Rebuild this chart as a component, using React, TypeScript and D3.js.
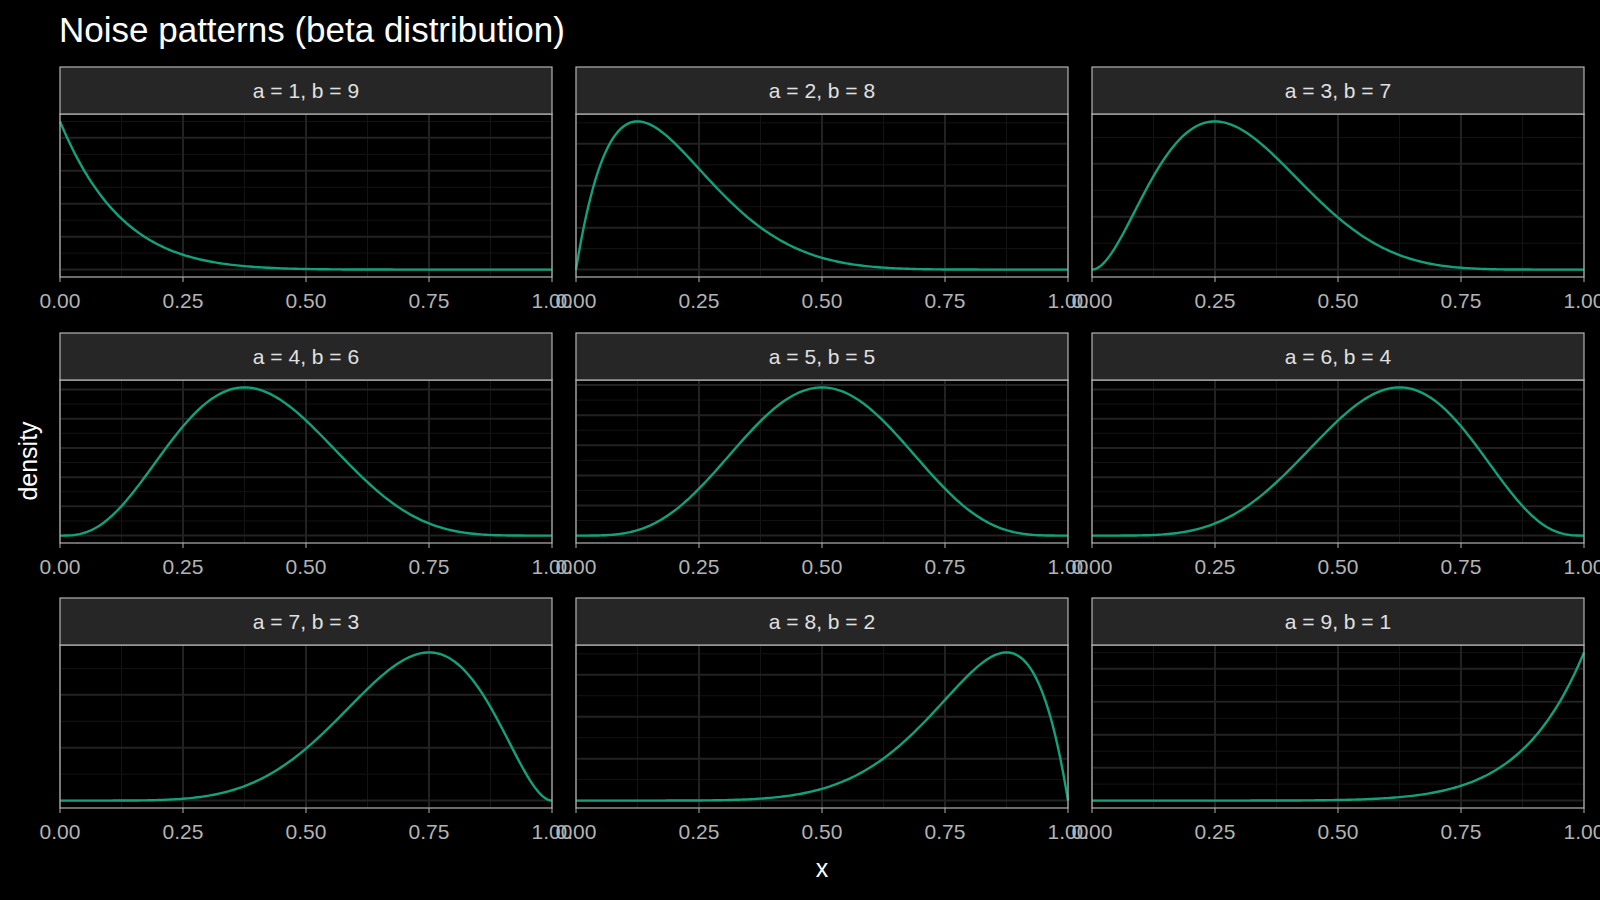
import React from "react";
import * as d3 from "d3";

const aParams = [1, 2, 3, 4, 5, 6, 7, 8, 9];
const bParams = [9, 8, 7, 6, 5, 4, 3, 2, 1];
const xTicks = [0, 0.25, 0.5, 0.75, 1];
const xTickLabels = ["0.00", "0.25", "0.50", "0.75", "1.00"];
const xMinor = [0.125, 0.375, 0.625, 0.875];
const title = "Noise patterns (beta distribution)";

function lgamma(z: number): number {
  let r = 0;
  for (let i = 2; i < z; i++) r += Math.log(i);
  return r;
}
function betaPdf(x: number, a: number, b: number): number {
  const lb = lgamma(a) + lgamma(b) - lgamma(a + b);
  const t1 = a === 1 ? 0 : (a - 1) * Math.log(x);
  const t2 = b === 1 ? 0 : (b - 1) * Math.log(1 - x);
  return Math.exp(t1 + t2 - lb);
}

const colX = [60, 576, 1092];
const panelW = 492;
const rowStrip = [67, 333, 598];
const stripH = 47;
const panelH = 163;

export default function App() {
  const xs = d3.range(0, 1.0001, 0.005);
  return (
    <svg width={1600} height={900} style={{ display: "block", position: "absolute", left: 0, top: 0, background: "#000" }}
      fontFamily="Liberation Sans, Arial, sans-serif">
      <rect width={1600} height={900} fill="#000" />
      <text x={59} y={42} fill="#fff" fontSize={35}>{title}</text>
      {aParams.map((a, i) => {
        const b = bParams[i];
        const col = i % 3, row = Math.floor(i / 3);
        const x0 = colX[col];
        const sy = rowStrip[row];
        const py = sy + stripH;
        const data = xs.map(x => ({ x, y: betaPdf(x, a, b) }));
        const ymax = d3.max(data, d => d.y)!;
        const xS = d3.scaleLinear().domain([0, 1]).range([x0, x0 + panelW]);
        const yS = d3.scaleLinear().domain([-0.05 * ymax, 1.05 * ymax]).range([py + panelH, py]);
        const yT = yS.ticks(4);
        const step = yT.length > 1 ? yT[1] - yT[0] : 1;
        const yMin = [...yT.map(t => t - step / 2), yT[yT.length - 1] + step / 2];
        const line = d3.line<{ x: number; y: number }>().x(d => xS(d.x)).y(d => yS(d.y));
        return (
          <g key={i}>
            <rect x={x0} y={py} width={panelW} height={panelH} fill="#000" />
            {xMinor.map(t => <line key={"xm" + t} x1={xS(t)} x2={xS(t)} y1={py} y2={py + panelH} stroke="#141414" strokeWidth={1} />)}
            {yMin.filter(t => yS(t) > py && yS(t) < py + panelH).map(t => <line key={"ym" + t} x1={x0} x2={x0 + panelW} y1={yS(t)} y2={yS(t)} stroke="#141414" strokeWidth={1} />)}
            {xTicks.map(t => <line key={"x" + t} x1={xS(t)} x2={xS(t)} y1={py} y2={py + panelH} stroke="#222" strokeWidth={2} />)}
            {yT.filter(t => yS(t) > py && yS(t) < py + panelH).map(t => <line key={"y" + t} x1={x0} x2={x0 + panelW} y1={yS(t)} y2={yS(t)} stroke="#222" strokeWidth={2} />)}
            <path d={line(data) || ""} fill="none" stroke="#13a07a" strokeWidth={2.4} />
            <rect x={x0} y={py} width={panelW} height={panelH} fill="none" stroke="#b3b3b3" strokeWidth={1.2} />
            <rect x={x0} y={sy} width={panelW} height={stripH} fill="#262626" stroke="#b3b3b3" strokeWidth={1.2} />
            <text x={x0 + panelW / 2} y={sy + stripH / 2 + 7} textAnchor="middle" fill="#e0e0e0" fontSize={21}>{`a = ${a}, b = ${b}`}</text>
            {xTicks.map((t, k) => (
              <g key={"t" + t}>
                <line x1={xS(t)} x2={xS(t)} y1={py + panelH} y2={py + panelH + 5} stroke="#b3b3b3" />
                <text x={xS(t)} y={py + panelH + 31} textAnchor="middle" fill="#b3b3b3" fontSize={21}>{xTickLabels[k]}</text>
              </g>
            ))}
          </g>
        );
      })}
      <text x={822} y={877} textAnchor="middle" fill="#fff" fontSize={25}>x</text>
      <text transform="translate(37,461) rotate(-90)" textAnchor="middle" fill="#fff" fontSize={25}>density</text>
    </svg>
  );
}
